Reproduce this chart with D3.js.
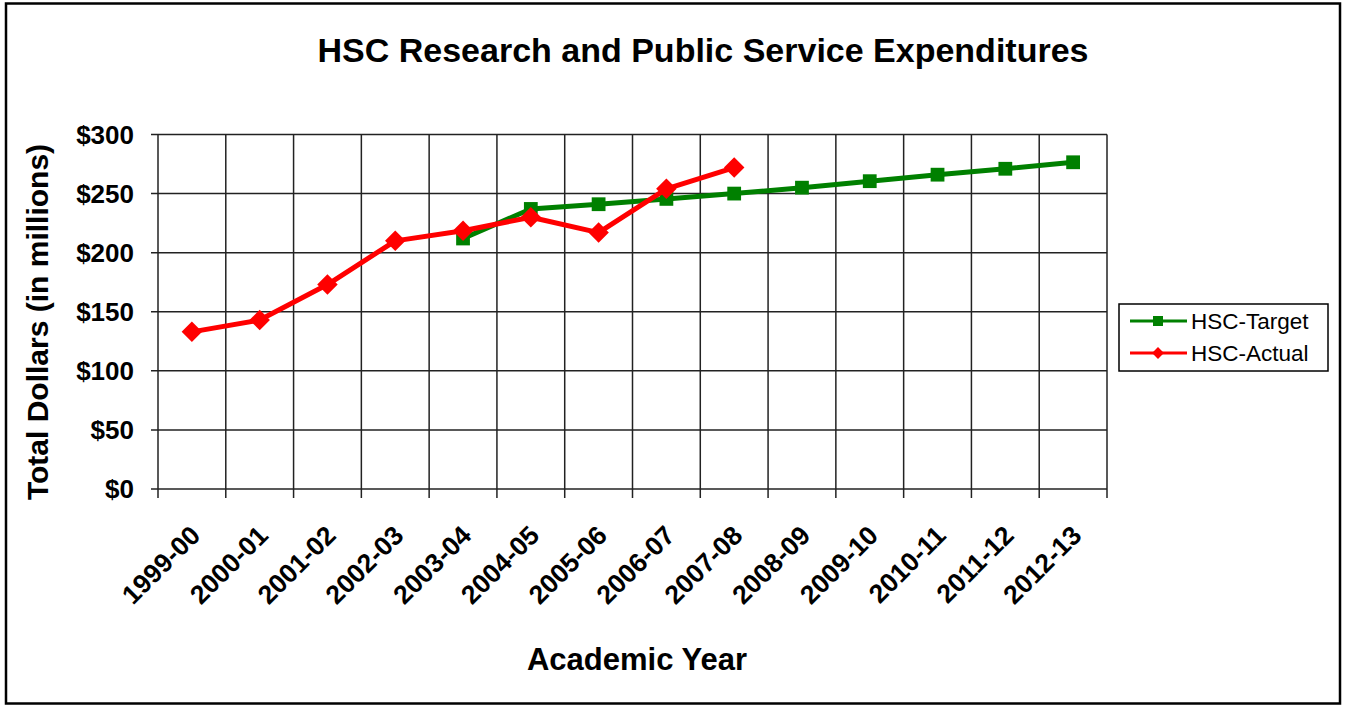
<!DOCTYPE html>
<html>
<head>
<meta charset="utf-8">
<script src="https://cdn.jsdelivr.net/npm/d3@7"></script>
<style>
  body { margin: 0; background: #fff; }
  svg { font-family: "Liberation Sans", Arial, sans-serif; }
</style>
</head>
<body>
<div id="chart"></div>
<script>
const years = ['1999-00', '2000-01', '2001-02', '2002-03', '2003-04', '2004-05', '2005-06',
    '2006-07', '2007-08', '2008-09', '2009-10', '2010-11', '2011-12', '2012-13'];
const targetValues = [null, null, null, null, 212, 237, 241, 245.5, 250, 255, 260.5, 266, 271, 276.5];
const actualValues = [133, 143, 173, 210, 218.5, 230, 217, 254, 272, null, null, null, null, null];
const yTicks = [0, 50, 100, 150, 200, 250, 300];

const width = 1346, height = 707;
const margin = {top: 134.5, right: 239, bottom: 218, left: 158};

const svg = d3.select('#chart')
    .append('svg')
    .attr('width', width)
    .attr('height', height);

// Outer frame
svg.append('rect')
    .attr('x', 6).attr('y', 3.5)
    .attr('width', 1334).attr('height', 700)
    .attr('fill', '#fff')
    .attr('stroke', '#000')
    .attr('stroke-width', 2.5);

const x = d3.scaleBand()
    .domain(years)
    .range([margin.left, width - margin.right]);
const y = d3.scaleLinear()
    .domain([0, 300])
    .range([height - margin.bottom, margin.top]);

// Horizontal grid + y ticks
svg.append('g')
    .selectAll('line')
    .data(yTicks)
    .enter()
    .append('line')
    .attr('x1', margin.left - 7)
    .attr('x2', width - margin.right)
    .attr('y1', d => y(d))
    .attr('y2', d => y(d))
    .attr('stroke', '#222')
    .attr('stroke-width', 1.5);

// Vertical grid + x ticks at category boundaries
const bounds = years.map(d => x(d)).concat([x.range()[1]]);
svg.append('g')
    .selectAll('line')
    .data(bounds)
    .enter()
    .append('line')
    .attr('x1', d => d)
    .attr('x2', d => d)
    .attr('y1', margin.top)
    .attr('y2', height - margin.bottom + 9)
    .attr('stroke', '#222')
    .attr('stroke-width', 1.5);

// Y tick labels
svg.append('g')
    .selectAll('text')
    .data(yTicks)
    .enter()
    .append('text')
    .attr('x', 134)
    .attr('y', d => y(d))
    .attr('dy', '0.36em')
    .attr('text-anchor', 'end')
    .attr('font-size', '26px')
    .attr('font-weight', 'bold')
    .text(d => '$' + d);

// X tick labels
svg.append('g')
    .selectAll('text')
    .data(years)
    .enter()
    .append('text')
    .attr('transform', d => `translate(${x(d) + x.bandwidth() / 2 + 10},${height - margin.bottom + 48}) rotate(-45)`)
    .attr('text-anchor', 'end')
    .attr('font-size', '26.5px')
    .attr('font-weight', 'bold')
    .text(d => d);

const cx = d => x(d) + x.bandwidth() / 2;

function drawSeries(values, color, size, angle) {
    const pts = years.map((d, i) => ({year: d, value: values[i]})).filter(d => d.value !== null);
    const line = d3.line()
        .x(d => cx(d.year))
        .y(d => y(d.value));
    svg.append('path')
        .datum(pts)
        .attr('fill', 'none')
        .attr('stroke', color)
        .attr('stroke-width', 5)
        .attr('stroke-linejoin', 'round')
        .attr('d', line);
    svg.append('g')
        .selectAll('path')
        .data(pts)
        .enter()
        .append('path')
        .attr('transform', d => `translate(${cx(d.year)},${y(d.value)}) rotate(${angle})`)
        .attr('d', d3.symbol().type(d3.symbolSquare).size(size))
        .attr('fill', color);
}

drawSeries(targetValues, '#008000', 190, 0);
drawSeries(actualValues, '#ff0000', 210, 45);

// Title
svg.append('text')
    .attr('x', 703)
    .attr('y', 62)
    .attr('text-anchor', 'middle')
    .attr('font-size', '34px')
    .attr('font-weight', 'bold')
    .text('HSC Research and Public Service Expenditures');

// Axis titles
svg.append('text')
    .attr('x', 637)
    .attr('y', 670)
    .attr('text-anchor', 'middle')
    .attr('font-size', '31px')
    .attr('font-weight', 'bold')
    .text('Academic Year');

svg.append('text')
    .attr('transform', 'translate(48,322) rotate(-90)')
    .attr('text-anchor', 'middle')
    .attr('font-size', '30px')
    .attr('font-weight', 'bold')
    .text('Total Dollars (in millions)');

// Legend
const legend = svg.append('g').attr('transform', 'translate(1119,304)');
legend.append('rect')
    .attr('width', 209).attr('height', 67)
    .attr('fill', '#fff')
    .attr('stroke', '#000')
    .attr('stroke-width', 1.5);
const legendItems = [
    {name: 'HSC-Target', color: '#008000', size: 100, angle: 0},
    {name: 'HSC-Actual', color: '#ff0000', size: 70, angle: 45}
];
const li = legend.selectAll('g.item')
    .data(legendItems)
    .enter()
    .append('g')
    .attr('class', 'item')
    .attr('transform', (d, i) => `translate(0,${17 + i * 32})`);
li.append('line')
    .attr('x1', 11).attr('x2', 68)
    .attr('stroke', d => d.color)
    .attr('stroke-width', 3);
li.append('path')
    .attr('transform', d => `translate(39,0) rotate(${d.angle})`)
    .attr('d', d => d3.symbol().type(d3.symbolSquare).size(d.size)())
    .attr('fill', d => d.color);
li.append('text')
    .attr('x', 72)
    .attr('dy', '0.36em')
    .attr('font-size', '22.5px')
    .text(d => d.name);
</script>
</body>
</html>
